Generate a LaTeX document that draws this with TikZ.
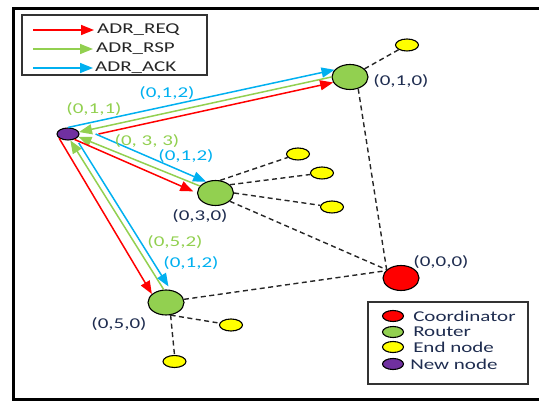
\documentclass[tikz,border=0pt]{standalone}
\usepackage{fontspec}
\setmainfont{Carlito}[FakeStretch=1.4]
\usetikzlibrary{arrows.meta,shapes.geometric}
\definecolor{reqred}{RGB}{255,0,0}
\definecolor{rspgreen}{RGB}{146,208,80}
\definecolor{ackblue}{RGB}{0,176,240}
\definecolor{endyellow}{RGB}{255,255,0}
\definecolor{newpurple}{RGB}{112,48,160}
\definecolor{lbl}{RGB}{31,45,80}
\newcommand{\msg}[3]{\draw[#1] (#2) -- (#3);}
\newcommand{\link}[2]{\draw[link] (#1) -- (#2);}
\begin{document}
\begin{tikzpicture}[x=1pt,y=-1pt,>={Triangle[length=13pt,width=10pt]},
  every node/.style={font=\fontsize{15}{18}\selectfont,inner sep=1pt},
  dev/.style={ellipse,draw,line width=1.1pt,inner sep=0pt},
  router/.style={dev,fill=rspgreen,minimum width=36pt,minimum height=25pt},
  zc/.style={dev,fill=reqred,minimum width=36pt,minimum height=25pt},
  leaf/.style={dev,fill=endyellow,minimum width=23pt,minimum height=12pt},
  newdev/.style={dev,fill=newpurple,minimum width=22pt,minimum height=12pt},
  key/.style={dev,minimum width=21pt,minimum height=11pt},
  req/.style={->,reqred,line width=1.5pt},
  rsp/.style={->,rspgreen,line width=1.5pt},
  ack/.style={->,ackblue,line width=1.5pt},
  link/.style={line width=1.4pt,black!85,dash pattern=on 5pt off 3.5pt},
  box/.style={draw=black!80,line width=2pt}]
  \useasboundingbox (0,0) rectangle (539,401);
  \draw[line width=3pt] (539,9) -- (13,9) -- (13,399) -- (539,399);
  % devices
  \node[newdev] (n) at (68,134) {};
  \node[router] (r1) at (350,77) {};
  \node[router] (r3) at (215.5,193) {};
  \node[router] (r5) at (166,302.5) {};
  \node[zc] (c) at (401,278) {};
  \node[leaf] (e1) at (407,45) {};
  \node[leaf] (e2) at (298,154) {};
  \node[leaf] (e3) at (322,173) {};
  \node[leaf] (e4) at (332,207) {};
  \node[leaf] (e5) at (231,325) {};
  \node[leaf] (e6) at (174.5,361.5) {};
  \node[text=lbl] (t1) at (401,81) {(0,1,0)};
  \node[text=lbl] (t3) at (200,216) {(0,3,0)};
  \node[text=lbl] (t5) at (119,324) {(0,5,0)};
  \node[text=lbl] (t0) at (441,262) {(0,0,0)};
  % tree links
  \link{r1}{e1}
  \link{r1.305}{c.150}
  \link{r3.330}{c.150}
  \link{r5.10}{c.155}
  \link{r3.70}{e2}
  \link{r3.30}{e3}
  \link{r3.0}{e4}
  \link{r5.290}{e5}
  \link{r5.290}{e6.north}
  % messages
  \msg{ack}{n.north}{r1.155}
  \msg{rsp}{r1.west}{n.10}
  \msg{req}{[xshift=19pt]n.east}{r1.198}
  \msg{ack}{[xshift=16pt]n.east}{r3.130}
  \msg{rsp}{r3.156}{n.345}
  \msg{req,shorten >=4pt}{n.320}{r3.west}
  \msg{req}{n.205}{r5.149}
  \msg{rsp}{r5.100}{n.290}
  \msg{ack,shorten <=5pt,shorten >=4pt}{n.330}{r5.70}
  \node[text=ackblue] (a1) at (167,93) {(0,1,2)};
  \node[text=rspgreen] (s1) at (94,109) {(0,1,1)};
  \node[text=rspgreen] (s3) at (147,141) {(0, 3, 3)};
  \node[text=ackblue] (a3) at (186,156) {(0,1,2)};
  \node[text=rspgreen] (s5) at (175,242) {(0,5,2)};
  \node[text=ackblue] (a5) at (191,263) {(0,1,2)};
  % message key
  \draw[box] (22,15) rectangle (207,75);
  \node[anchor=west,text=black!85] (kreq) at (96,30) {ADR\_REQ};
  \node[anchor=west,text=black!85] (krsp) at (95,49) {ADR\_RSP};
  \node[anchor=west,text=black!85] (kack) at (94,68) {ADR\_ACK};
  \draw[req,shorten >=2pt] ([xshift=-63pt]kreq.west) -- (kreq.west);
  \draw[rsp,shorten >=2pt] ([xshift=-62pt]krsp.west) -- (krsp.west);
  \draw[ack,shorten >=1pt] ([xshift=-61pt]kack.west) -- (kack.west);
  % device key
  \draw[box] (368,302) rectangle (528,384);
  \node[key,fill=reqred] (kc) at (393,316) {};
  \node[key,fill=rspgreen] (kr) at (393,332) {};
  \node[key,fill=endyellow] (ke) at (393,347) {};
  \node[key,fill=newpurple] (kn) at (393,364) {};
  \node[anchor=west,text=lbl] at ([xshift=8pt]kc.east) {Coordinator};
  \node[anchor=west,text=lbl] at ([xshift=8pt]kr.east) {Router};
  \node[anchor=west,text=lbl] at ([xshift=8pt]ke.east) {End node};
  \node[anchor=west,text=lbl] at ([xshift=5pt]kn.east) {New node};
\end{tikzpicture}
\end{document}
